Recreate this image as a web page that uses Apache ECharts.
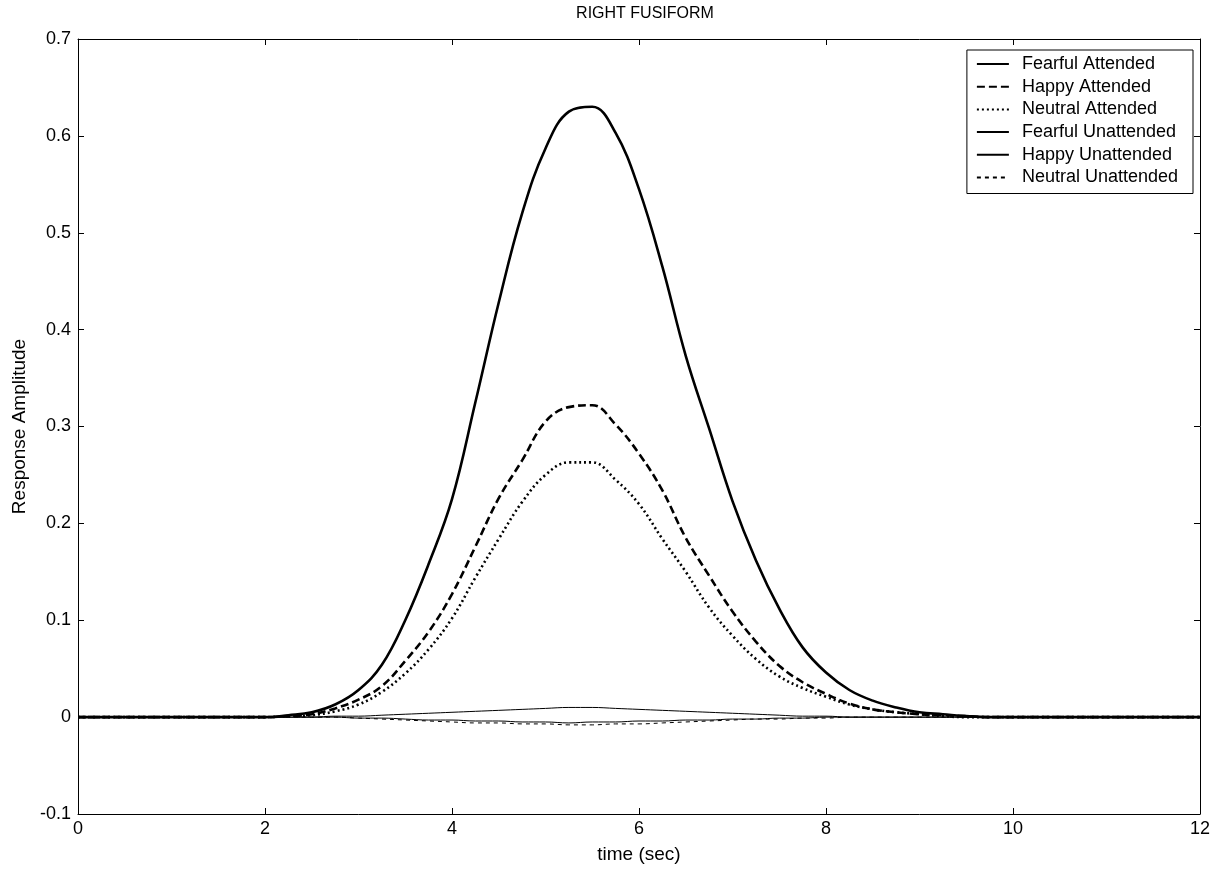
<!DOCTYPE html>
<html>
<head>
<meta charset="utf-8">
<script src="https://cdn.jsdelivr.net/npm/echarts@6/dist/echarts.min.js"></script>
<style>
html,body{margin:0;padding:0;background:#fff;}
#chart{width:1213px;height:869px;}
</style>
</head>
<body>
<div id="chart"></div>
<script>
// time grid (sec)
const timeSec = [0,0.25,0.5,0.75,1,1.25,1.5,1.75,2,2.25,2.5,2.75,3,3.25,3.5,3.75,4,4.25,4.5,4.75,5,5.25,5.5,5.75,6,6.25,6.5,6.75,7,7.25,7.5,7.75,8,8.25,8.5,8.75,9,9.25,9.5,9.75,10,10.25,10.5,10.75,11,11.25,11.5,11.75,12];

const fearfulAttended = [0,0,0,0,0,0,0,0,0,
  0.002,0.005,0.013,0.028,0.054,0.100,0.158,0.225,0.325,0.428,0.520,0.587,0.625,0.630,0.603,0.545,0.465,0.373,0.298,0.223,0.162,0.112,0.072,0.046,0.028,0.017,0.010,0.005,0.003,0.001,0,
  0,0,0,0,0,0,0,0,0];
const happyAttended = [0,0,0,0,0,0,0,0,0,
  0.001,0.003,0.009,0.018,0.032,0.058,0.088,0.127,0.176,0.226,0.265,0.305,0.320,0.322,0.302,0.272,0.234,0.185,0.146,0.109,0.078,0.053,0.036,0.024,0.014,0.008,0.005,0.003,0.002,0.001,0,
  0,0,0,0,0,0,0,0,0];
const neutralAttended = [0,0,0,0,0,0,0,0,0,
  0.001,0.002,0.006,0.013,0.026,0.045,0.070,0.102,0.144,0.184,0.222,0.250,0.263,0.263,0.245,0.220,0.184,0.150,0.113,0.084,0.060,0.042,0.030,0.021,0.013,0.008,0.005,0.003,0.001,0,0,
  0,0,0,0,0,0,0,0,0];
const fearfulUnattended = [0,0,0,0,0,0,0,0,0,
  0,0,0.001,0.001,0.002,0.003,0.004,0.005,0.006,0.007,0.008,0.009,0.010,0.010,0.009,0.008,0.007,0.006,0.005,0.004,0.003,0.002,0.001,0.001,0,0,0,0,0,0,0,
  0,0,0,0,0,0,0,0,0];
const happyUnattended = [0,0,0,0,0,0,0,0,0,
  0,0,0,-0.001,-0.001,-0.002,-0.003,-0.003,-0.004,-0.004,-0.005,-0.005,-0.006,-0.005,-0.005,-0.004,-0.004,-0.003,-0.003,-0.002,-0.002,-0.001,-0.001,0,0,0,0,0,0,0,0,
  0,0,0,0,0,0,0,0,0];
const neutralUnattended = [0,0,0,0,0,0,0,0,0,
  0,0,0,-0.001,-0.002,-0.003,-0.004,-0.005,-0.006,-0.006,-0.007,-0.007,-0.008,-0.008,-0.007,-0.007,-0.006,-0.005,-0.004,-0.003,-0.002,-0.002,-0.001,-0.001,0,0,0,0,0,0,0,
  0,0,0,0,0,0,0,0,0];

const seriesNames = ['Fearful Attended','Happy Attended','Neutral Attended','Fearful Unattended','Happy Unattended','Neutral Unattended'];
const xTicks = {min:0, max:12, interval:2};
const yTicks = {min:-0.1, max:0.7, interval:0.1};

const FONT = 'Liberation Sans, Arial, sans-serif';
const FS = 18;
const FS_NAME = 19;

function pairs(arr){ return arr.map((v,i)=>[timeSec[i], v]); }

const styles = [
  {width:2.6, type:'solid'},
  {width:2.6, type:[8,4]},
  {width:2.6, type:[2,3]},
  {width:1, type:'solid'},
  {width:1, type:'solid'},
  {width:1, type:[4,4]}
];
const dataSets = [fearfulAttended,happyAttended,neutralAttended,fearfulUnattended,happyUnattended,neutralUnattended];

const chart = echarts.init(document.getElementById('chart'), null, {renderer:'canvas'});

const fmtY = v => { const r = Math.round(v*10)/10; return r === 0 ? '0' : String(r); };

const axisCommon = {
  axisLine:{show:true, onZero:false, lineStyle:{color:'#000', width:1}},
  axisTick:{show:true, inside:true, length:6, lineStyle:{color:'#000'}},
  splitLine:{show:false}
};

chart.setOption({
  backgroundColor:'#fff',
  animation:false,
  title:{
    text:'RIGHT FUSIFORM', left:640, textAlign:'center', top:1,
    textStyle:{fontFamily:FONT, fontSize:16, fontWeight:'normal', color:'#000'}
  },
  grid:{left:78, right:11, top:39, bottom:52, containLabel:false},
  legend:{
    orient:'vertical', right:20, top:50,
    data:seriesNames,
    backgroundColor:'#fff', borderColor:'#000', borderWidth:1,
    padding:[5,15,7,9],
    itemWidth:32, itemHeight:14, itemGap:4.7,
    itemStyle:{opacity:0},
    textStyle:{fontFamily:FONT, fontSize:FS, lineHeight:18, color:'#000', padding:[0,0,0,8]},
    inactiveColor:'#000'
  },
  xAxis:[
    Object.assign({type:'value', min:xTicks.min, max:xTicks.max, interval:xTicks.interval,
      name:'time (sec)', nameLocation:'middle', nameGap:31,
      nameTextStyle:{fontFamily:FONT, fontSize:FS_NAME, color:'#000'},
      axisLabel:{fontFamily:FONT, fontSize:FS, color:'#000', margin:6}}, axisCommon),
    Object.assign({type:'value', position:'top', min:xTicks.min, max:xTicks.max, interval:xTicks.interval,
      axisLabel:{show:false}}, axisCommon)
  ],
  yAxis:[
    Object.assign({type:'value', min:yTicks.min, max:yTicks.max, interval:yTicks.interval,
      name:'Response Amplitude', nameLocation:'middle', nameGap:48,
      nameTextStyle:{fontFamily:FONT, fontSize:FS_NAME, color:'#000'},
      axisLabel:{fontFamily:FONT, fontSize:FS, color:'#000', margin:7, formatter:fmtY}}, axisCommon),
    Object.assign({type:'value', position:'right', min:yTicks.min, max:yTicks.max, interval:yTicks.interval,
      axisLabel:{show:false}}, axisCommon)
  ],
  series: seriesNames.map((name,i)=>({
    name:name, type:'line', data:pairs(dataSets[i]),
    xAxisIndex:0, yAxisIndex:0,
    showSymbol:false, symbol:'none',
    smooth:0.4,
    lineStyle:{color:'#000', width:styles[i].width, type:styles[i].type},
    itemStyle:{color:'#000'},
    z: 10-i
  }))
});
</script>
</body>
</html>
